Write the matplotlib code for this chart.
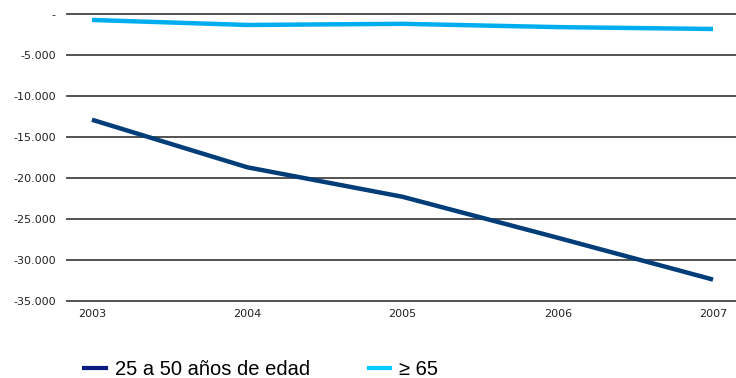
import matplotlib.pyplot as plt
from matplotlib.ticker import FuncFormatter

years = [2003, 2004, 2005, 2006, 2007]
adultos = [-12900, -18700, -22300, -27300, -32400]
mayores = [-730, -1340, -1200, -1600, -1830]
labels = ["25 a 50 años de edad", "≥ 65"]

fig = plt.figure(figsize=(7.36, 3.78), dpi=100)
ax = fig.add_axes([0.091, 0.204, 0.909, 0.759])

ax.plot(years, adultos, color="#003d79", lw=3.2, solid_capstyle="butt", label=labels[0])
ax.plot(years, mayores, color="#00aeef", lw=3.2, solid_capstyle="butt", label=labels[1])

ax.set_ylim(-35000, 0)
ax.set_xlim(2003 - 0.161, 2007 + 0.148)
ax.set_yticks(range(-35000, 1, 5000))
ax.set_xticks(years)


def fmt(v, pos):
    if v == 0:
        return "-"
    return f"{v:,.0f}".replace(",", ".")


ax.yaxis.set_major_formatter(FuncFormatter(fmt))
ax.grid(axis="y", color="#444444", lw=1.3)
for gl in ax.get_ygridlines():
    gl.set_clip_on(False)
ax.set_axisbelow(True)
for s in ax.spines.values():
    s.set_visible(False)
ax.tick_params(length=0, labelsize=8, colors="#222222")
ax.tick_params(axis="y", pad=8)
ax.tick_params(axis="x", pad=6)

h1 = plt.Line2D([], [], color="#0a1a80", lw=3)
h2 = plt.Line2D([], [], color="#00ccff", lw=3)
fig.legend([h1, h2], labels, loc="lower left", bbox_to_anchor=(0.09, -0.05),
           ncol=2, frameon=False, prop={"family": "Liberation Sans", "size": 14.5},
           handlelength=1.05, handletextpad=0.45, columnspacing=2.95)

plt.savefig("out.png", dpi=100)
